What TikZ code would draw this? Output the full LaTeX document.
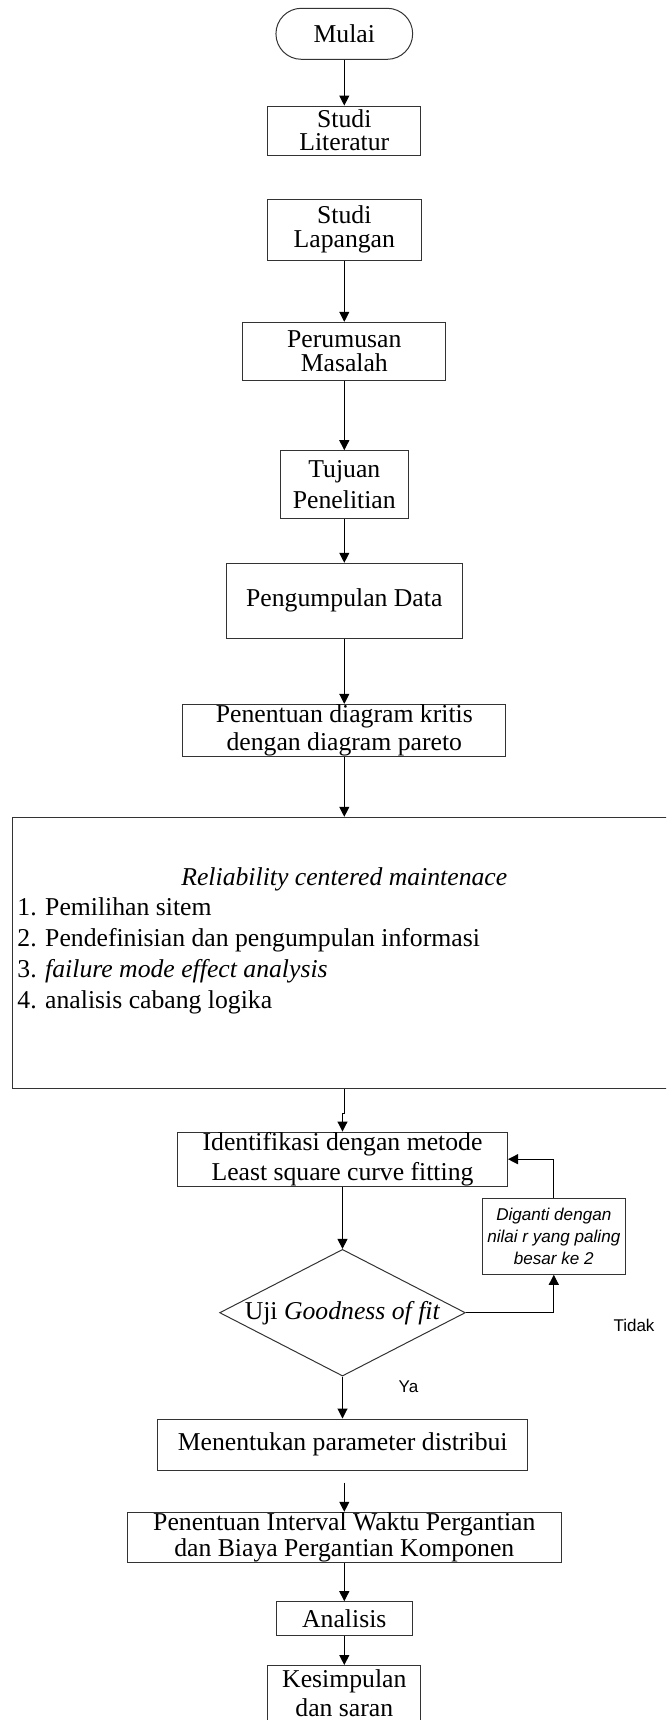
\documentclass[tikz,border=0pt]{standalone}
\usepackage{fontspec}
\setmainfont{Liberation Serif}
\newfontfamily\arialfont{Liberation Sans}
\usetikzlibrary{shapes.geometric,arrows.meta}
\begin{document}
\begin{tikzpicture}[x=0.5pt,y=-0.5pt,
  box/.style={draw=black!80, line width=0.5pt, inner sep=0pt, align=center,
    font=\fontsize{12.85}{#1}\selectfont},
  box/.default=14,
  conn/.style={line width=0.5pt, -{Triangle[length=5pt,width=5pt]}},
  sidetext/.style={inner sep=0pt, font=\arialfont\fontsize{8.5}{10.85}\selectfont},
  rcmtext/.style={inner sep=0pt, anchor=base west, font=\fontsize{12.85}{15}\selectfont}]
\path[use as bounding box] (0,0) rectangle (666,1720);
\clip (0,0) rectangle (666,1720);

% nodes
\node[box=12, minimum width=68.35pt, minimum height=25.5pt, rounded corners=12.7pt] (start) at (344.3,33.8) {Mulai};
\node[box=11.5, minimum width=76.5pt, minimum height=24.65pt] (lit) at (344.3,130.7) {Studi\\Literatur};
\node[box=12, minimum width=77.15pt, minimum height=30.5pt] (lap) at (344.3,229.5) {Studi\\Lapangan};
\node[box=12.15, minimum width=101.65pt, minimum height=28.85pt] (perum) at (344.3,351.2) {Perumusan\\Masalah};
\node[box=15.3, minimum width=63.8pt, minimum height=34pt] (tuj) at (344.3,484.7) {Tujuan\\Penelitian};
\node[box, minimum width=117.8pt, minimum height=37.5pt] (peng) at (344.3,600.8) {Pengumpulan Data};
\node[box=14.15, minimum width=161.65pt, minimum height=24.15pt] (pen) at (344.3,730.2) {Penentuan diagram kritis\\dengan diagram pareto};
\node[draw=black!80, line width=0.5pt, inner sep=0pt, minimum width=343.65pt, minimum height=135.7pt] (rcm) at (356.3,953) {};
\node[inner sep=0pt, anchor=base, font=\fontsize{12.85}{15}\selectfont] (rcmtitle) at (344.3,885) {\textit{Reliability centered maintenace}};
\node[rcmtext] (it1) at (17,915) {1. Pemilihan sitem};
\node[rcmtext] (it2) at (17,946) {2. Pendefinisian dan pengumpulan informasi};
\node[rcmtext] (it3) at (17,977) {3. \textit{failure mode effect analysis}};
\node[rcmtext] (it4) at (17,1008) {4. analisis cabang logika};
\node[box=15.35, minimum width=165pt, minimum height=26.85pt] (iden) at (342.5,1159.2) {Identifikasi dengan metode\\Least square curve fitting};
\node[draw=black!80, line width=0.5pt, inner sep=0pt, align=center, minimum width=71.5pt, minimum height=38pt,
  font=\arialfont\itshape\fontsize{8.55}{10.85}\selectfont] (dig) at (553.8,1236.3) {Diganti dengan\\nilai r yang paling\\besar ke 2};
\node[draw=black!80, line width=0.5pt, shape=diamond, aspect=1.94, inner sep=0pt, minimum width=122.85pt, minimum height=63.35pt,
  font=\fontsize{12.85}{15}\selectfont] (dia) at (342.5,1312.7) {Uji \textit{Goodness of fit}};
\node[sidetext] (tidak) at (634,1325) {Tidak};
\node[sidetext] (ya) at (408.5,1386.7) {Ya};
\node[box, minimum width=185pt, minimum height=25.5pt] (men) at (342.7,1444.5) {Menentukan parameter distribui};
\node[box=11, minimum width=217pt, minimum height=25.2pt] (int) at (344.3,1537.5) {Penentuan Interval Waktu Pergantian\\dan Biaya Pergantian Komponen};
\node[box, minimum width=68pt, minimum height=16.8pt] (ana) at (344.3,1618.5) {Analisis};
\node[box=14.5, minimum width=76.65pt, minimum height=28pt] (kes) at (344.3,1693.5) {Kesimpulan\\dan saran};
\coordinate (gap) at (344.3,1482.7);

% connectors
\draw[conn] (start.south) -- (start.south |- lit.north);
\draw[conn] (lap.south) -- (lap.south |- perum.north);
\draw[conn] (perum.south) -- (perum.south |- tuj.north);
\draw[conn] (tuj.south) -- (tuj.south |- peng.north);
\draw[conn] (peng.south) -- (peng.south |- pen.north);
\draw[conn] (pen.south) -- (pen.south |- rcm.north);
\draw[conn] (pen.south |- rcm.south) -- ++(0,24.3) -| (iden.north);
\draw[conn] (iden.south) -- (iden.south |- dia.north);
\draw[conn] (dia.east) -| (dig.south);
\draw[conn] (dig.north) |- (iden.east);
\draw[conn] (dia.south) -- (dia.south |- men.north);
\draw[conn] (gap) -- (gap |- int.north);
\draw[conn] (int.south) -- (int.south |- ana.north);
\draw[conn] (ana.south) -- (ana.south |- kes.north);
\end{tikzpicture}
\end{document}
